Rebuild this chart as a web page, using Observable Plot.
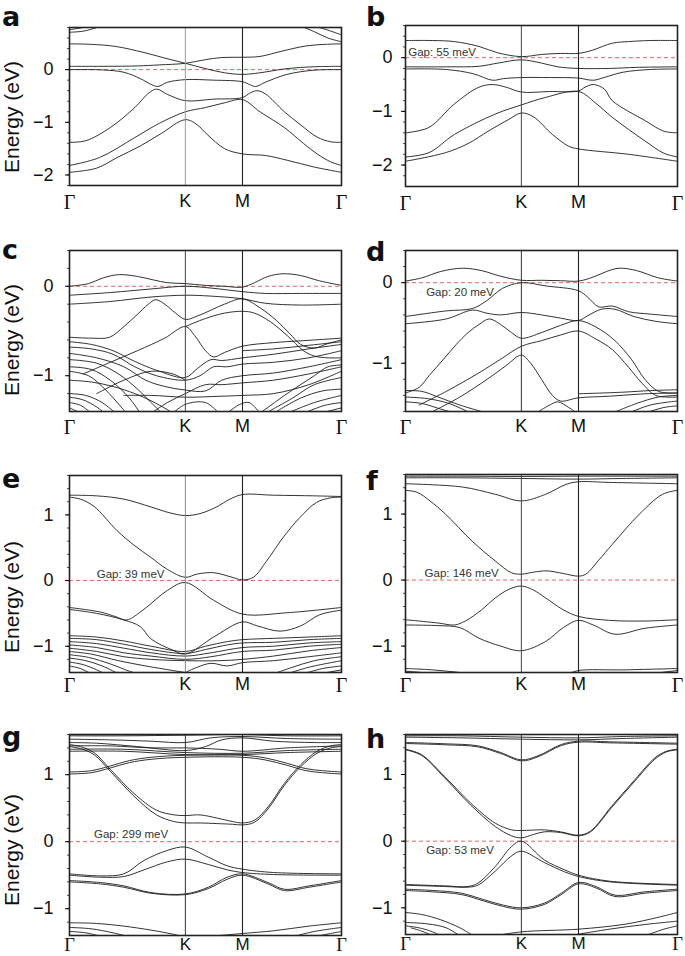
<!DOCTYPE html>
<html><head><meta charset="utf-8">
<script src="https://cdn.jsdelivr.net/npm/d3@7"></script>
<script src="https://cdn.jsdelivr.net/npm/@observablehq/plot@0.6"></script>
<style>
body{margin:0;background:#fff}
#chart{position:relative;width:685px;height:956px;overflow:hidden;background:#fff}
</style></head><body><div id="chart"></div><script>
// ---- k-path ticks ----
const kTicks = [0, 0.426, 0.636, 1];
const kLabels = ["Γ", "K", "M", "Γ"];
const yTicksA = [-2, -1, 0];
const yTicksB = [-2, -1, 0];
const yTicksC = [-1, 0];
const yTicksD = [-1, 0];
const yTicksEH = [-1, 0, 1];
const gapLabels = {b: "Gap: 55 meV", d: "Gap: 20 meV", e: "Gap: 39 meV", f: "Gap: 146 meV", g: "Gap: 299 meV", h: "Gap: 53 meV"};
const gapPos = {b: [0.01, 0.1], d: [0.076, -0.12], e: [0.1, 0.1], f: [0.07, 0.1], g: [0.09, 0.11], h: [0.076, -0.13]};

// ---- bands: each band is a list of [k, E(eV)] ----
const bandsA = [
 [[0,0.063],[0.12,0.063],[0.25,0.07],[0.33,0.09],[0.426,0.12],[0.5,0.19],[0.56,0.23],[0.636,0.235],[0.7,0.25],[0.78,0.35],[0.87,0.45],[0.94,0.48],[1,0.49]],
 [[0,0.49],[0.08,0.48],[0.17,0.44],[0.27,0.33],[0.35,0.22],[0.426,0.12],[0.5,0.02],[0.57,-0.06],[0.636,-0.09],[0.7,-0.06],[0.8,0.02],[0.9,0.055],[1,0.063]],
 [[0,0.0],[0.12,-0.005],[0.2,-0.05],[0.26,-0.17],[0.3,-0.28],[0.325,-0.32],[0.36,-0.24],[0.426,-0.19],[0.53,-0.2],[0.636,-0.23],[0.665,-0.29],[0.685,-0.32],[0.72,-0.24],[0.8,-0.09],[0.9,-0.01],[1,0.0]],
 [[0,-1.38],[0.06,-1.35],[0.15,-1.1],[0.24,-0.72],[0.29,-0.45],[0.32,-0.37],[0.36,-0.47],[0.426,-0.59],[0.53,-0.56],[0.636,-0.53],[0.665,-0.44],[0.69,-0.4],[0.72,-0.46],[0.79,-0.8],[0.85,-1.05],[0.91,-1.28],[0.96,-1.37],[1,-1.38]],
 [[0,-1.82],[0.11,-1.67],[0.24,-1.29],[0.33,-1.02],[0.426,-0.8],[0.5,-0.72],[0.57,-0.63],[0.636,-0.57],[0.7,-0.8],[0.79,-1.1],[0.86,-1.4],[0.91,-1.6],[0.96,-1.75],[1,-1.82]],
 [[0,-1.95],[0.1,-1.87],[0.175,-1.67],[0.26,-1.45],[0.335,-1.22],[0.426,-0.95],[0.47,-1.05],[0.506,-1.23],[0.57,-1.5],[0.636,-1.6],[0.72,-1.63],[0.8,-1.72],[0.9,-1.85],[1,-1.95]],
 [[0,0.71],[0.05,0.73],[0.1,0.8],[0.12,0.85]],
 [[0,0.76],[0.04,0.79],[0.07,0.83]],
 [[0.85,0.83],[0.9,0.72],[0.95,0.6],[1,0.53]],
 [[0.9,0.83],[0.95,0.75],[1,0.66]]
];
const bandsB = [
 [[0,0.32],[0.1,0.32],[0.18,0.3],[0.27,0.21],[0.34,0.09],[0.426,0.02],[0.5,0.06],[0.57,0.08],[0.636,0.08],[0.687,0.14],[0.76,0.27],[0.82,0.3],[0.9,0.32],[1,0.32]],
 [[0,-0.17],[0.15,-0.17],[0.27,-0.16],[0.34,-0.1],[0.426,-0.04],[0.5,-0.1],[0.56,-0.17],[0.636,-0.2],[0.75,-0.2],[0.85,-0.18],[1,-0.17]],
 [[0,-0.21],[0.15,-0.22],[0.25,-0.3],[0.32,-0.42],[0.36,-0.39],[0.426,-0.37],[0.53,-0.37],[0.636,-0.38],[0.69,-0.42],[0.73,-0.37],[0.8,-0.27],[0.9,-0.22],[1,-0.21]],
 [[0,-1.4],[0.086,-1.3],[0.18,-0.86],[0.27,-0.55],[0.32,-0.5],[0.37,-0.55],[0.426,-0.64],[0.53,-0.63],[0.636,-0.62],[0.66,-0.55],[0.69,-0.5],[0.73,-0.58],[0.76,-0.8],[0.88,-1.17],[0.95,-1.37],[1,-1.4]],
 [[0,-1.85],[0.086,-1.77],[0.18,-1.43],[0.33,-1.05],[0.426,-0.88],[0.515,-0.74],[0.636,-0.63],[0.7,-0.85],[0.76,-1.11],[0.88,-1.55],[0.95,-1.78],[1,-1.85]],
 [[0,-1.93],[0.147,-1.77],[0.23,-1.6],[0.307,-1.36],[0.38,-1.15],[0.426,-1.03],[0.47,-1.1],[0.54,-1.43],[0.6,-1.65],[0.636,-1.7],[0.82,-1.8],[1,-1.93]]
];
const bandsC = [
 [[0,0.0],[0.07,0.03],[0.12,0.09],[0.18,0.13],[0.25,0.11],[0.31,0.07],[0.36,0.04],[0.426,0.03],[0.5,0.01],[0.57,0.0],[0.636,-0.01],[0.68,0.04],[0.73,0.11],[0.785,0.14],[0.85,0.12],[0.92,0.06],[1,0.01]],
 [[0,-0.1],[0.15,-0.07],[0.3,-0.03],[0.426,0.0],[0.52,-0.02],[0.636,-0.06],[0.72,-0.08],[0.85,-0.08],[1,-0.08]],
 [[0,-0.2],[0.15,-0.17],[0.3,-0.12],[0.426,-0.1],[0.52,-0.11],[0.636,-0.14],[0.72,-0.19],[0.85,-0.21],[1,-0.2]],
 [[0,-0.57],[0.08,-0.58],[0.147,-0.57],[0.2,-0.45],[0.244,-0.33],[0.29,-0.2],[0.317,-0.15],[0.35,-0.2],[0.39,-0.3],[0.426,-0.37],[0.48,-0.32],[0.57,-0.2],[0.636,-0.14],[0.7,-0.24],[0.76,-0.38],[0.81,-0.53],[0.85,-0.65],[0.9,-0.69],[0.95,-0.64],[1,-0.6]],
 [[0.05,-0.98],[0.15,-0.85],[0.25,-0.72],[0.35,-0.58],[0.426,-0.45],[0.46,-0.55],[0.5,-0.72],[0.53,-0.79],[0.57,-0.74],[0.636,-0.67],[0.75,-0.63],[0.85,-0.61],[1,-0.58]],
 [[0.426,-0.45],[0.5,-0.36],[0.57,-0.3],[0.636,-0.28],[0.68,-0.3],[0.74,-0.4],[0.8,-0.55],[0.86,-0.72],[0.9,-0.78],[0.95,-0.8],[1,-0.8]],
 [[0,-0.62],[0.08,-0.65],[0.16,-0.72],[0.24,-0.84],[0.33,-0.95],[0.426,-1.02],[0.47,-0.92],[0.52,-0.82],[0.56,-0.83],[0.636,-0.8],[0.75,-0.76],[0.88,-0.7],[1,-0.65]],
 [[0,-0.68],[0.08,-0.7],[0.16,-0.76],[0.24,-0.9],[0.32,-1.0],[0.426,-1.05],[0.48,-1.0],[0.53,-0.9],[0.58,-0.9],[0.636,-0.87],[0.75,-0.85],[0.88,-0.8],[1,-0.72]],
 [[0,-0.75],[0.1,-0.8],[0.2,-0.9],[0.28,-1.05],[0.35,-1.12],[0.426,-1.16],[0.5,-1.17],[0.56,-1.05],[0.636,-1.0],[0.75,-0.97],[0.88,-0.9],[1,-0.82]],
 [[0,-0.82],[0.1,-0.86],[0.18,-0.98],[0.25,-1.15],[0.3,-1.3],[0.34,-1.42]],
 [[0,-0.9],[0.08,-0.93],[0.15,-1.05],[0.22,-1.25],[0.26,-1.42]],
 [[0,-0.95],[0.07,-1.0],[0.13,-1.15],[0.19,-1.35],[0.21,-1.42]],
 [[0,-1.05],[0.08,-1.07],[0.16,-1.12],[0.24,-1.2],[0.3,-1.28],[0.36,-1.38],[0.38,-1.42]],
 [[0,-1.2],[0.06,-1.22],[0.12,-1.3],[0.17,-1.42]],
 [[0,-1.24],[0.05,-1.27],[0.1,-1.35],[0.13,-1.42]],
 [[0,-1.3],[0.04,-1.33],[0.08,-1.42]],
 [[0,-1.36],[0.03,-1.4],[0.05,-1.42]],
 [[0.1,-1.2],[0.2,-1.05],[0.3,-0.95],[0.38,-0.98],[0.426,-1.05]],
 [[0.2,-1.22],[0.3,-1.22],[0.426,-1.24],[0.55,-1.23],[0.636,-1.22],[0.75,-1.2],[0.88,-1.1],[1,-0.95]],
 [[0.3,-1.42],[0.36,-1.3],[0.426,-1.2],[0.5,-1.1],[0.56,-1.1],[0.636,-1.08],[0.75,-1.05],[0.88,-0.98],[1,-0.9]],
 [[0.636,-0.72],[0.75,-0.7],[0.88,-0.66],[1,-0.62]],
 [[0.38,-1.42],[0.426,-1.32],[0.5,-1.3],[0.55,-1.42]],
 [[0.58,-1.42],[0.62,-1.33],[0.66,-1.3],[0.7,-1.42]],
 [[0.7,-1.42],[0.8,-1.2],[0.9,-1.0],[0.95,-0.9],[1,-0.88]],
 [[0.72,-1.42],[0.82,-1.25],[0.9,-1.1],[1,-1.02]],
 [[0.75,-1.42],[0.85,-1.25],[0.93,-1.17],[1,-1.15]],
 [[0.8,-1.42],[0.9,-1.3],[1,-1.22]],
 [[0.86,-1.42],[0.94,-1.33],[1,-1.3]],
 [[0.92,-1.42],[1,-1.36]]
];
const bandsD = [
 [[0,0.02],[0.06,0.06],[0.13,0.14],[0.21,0.18],[0.28,0.15],[0.35,0.08],[0.426,0.03],[0.5,0.03],[0.57,0.025],[0.636,0.02],[0.69,0.07],[0.74,0.14],[0.786,0.18],[0.85,0.15],[0.93,0.06],[1,0.02]],
 [[0,-0.42],[0.15,-0.35],[0.247,-0.32],[0.3,-0.22],[0.357,-0.07],[0.426,0.0],[0.516,-0.04],[0.636,-0.1],[0.67,-0.18],[0.71,-0.3],[0.76,-0.29],[0.82,-0.36],[0.9,-0.39],[1,-0.42]],
 [[0,-0.51],[0.15,-0.45],[0.247,-0.34],[0.3,-0.38],[0.35,-0.4],[0.426,-0.37],[0.5,-0.4],[0.57,-0.44],[0.636,-0.47],[0.67,-0.41],[0.72,-0.33],[0.77,-0.33],[0.84,-0.42],[0.92,-0.48],[1,-0.51]],
 [[0,-1.37],[0.05,-1.3],[0.088,-1.15],[0.14,-0.95],[0.186,-0.77],[0.23,-0.62],[0.27,-0.52],[0.308,-0.45],[0.35,-0.52],[0.39,-0.62],[0.426,-0.69],[0.5,-0.62],[0.57,-0.53],[0.636,-0.47],[0.7,-0.55],[0.77,-0.72],[0.83,-0.95],[0.88,-1.2],[0.93,-1.35],[1,-1.37]],
 [[0.05,-1.52],[0.15,-1.35],[0.27,-1.12],[0.35,-0.95],[0.426,-0.79],[0.5,-0.72],[0.57,-0.65],[0.636,-0.6],[0.7,-0.7],[0.76,-0.83],[0.82,-1.05],[0.87,-1.25],[0.92,-1.4],[1,-1.42]],
 [[0.1,-1.6],[0.2,-1.42],[0.3,-1.2],[0.37,-1.03],[0.426,-0.9],[0.46,-1.0],[0.5,-1.2],[0.54,-1.4],[0.57,-1.47],[0.636,-1.43],[0.75,-1.41],[0.88,-1.38],[1,-1.37]],
 [[0.636,-1.38],[0.8,-1.36],[0.9,-1.34],[1,-1.33]],
 [[0,-1.34],[0.06,-1.35],[0.12,-1.42],[0.2,-1.52],[0.3,-1.62]],
 [[0,-1.42],[0.08,-1.44],[0.16,-1.5],[0.24,-1.62]],
 [[0,-1.48],[0.06,-1.5],[0.12,-1.56],[0.18,-1.62]],
 [[0.76,-1.62],[0.85,-1.5],[0.93,-1.42],[1,-1.4]],
 [[0.82,-1.62],[0.9,-1.52],[1,-1.47]],
 [[0.88,-1.62],[0.95,-1.55],[1,-1.53]],
 [[0.48,-1.62],[0.53,-1.52],[0.56,-1.48],[0.6,-1.55],[0.63,-1.62]]
];
const bandsE = [
 [[0,1.3],[0.1,1.29],[0.2,1.24],[0.3,1.12],[0.37,1.03],[0.426,0.99],[0.48,1.02],[0.54,1.12],[0.59,1.24],[0.636,1.31],[0.75,1.3],[0.9,1.29],[1,1.28]],
 [[0,1.27],[0.04,1.24],[0.09,1.13],[0.175,0.76],[0.24,0.53],[0.297,0.36],[0.36,0.17],[0.426,0.05],[0.47,0.1],[0.53,0.12],[0.59,0.06],[0.636,0.01],[0.676,0.05],[0.725,0.3],[0.786,0.66],[0.847,0.96],[0.908,1.19],[0.96,1.26],[1,1.27]],
 [[0,-0.41],[0.114,-0.48],[0.17,-0.55],[0.21,-0.6],[0.27,-0.45],[0.36,-0.15],[0.426,-0.03],[0.53,-0.3],[0.636,-0.51],[0.8,-0.49],[1,-0.41]],
 [[0,-0.44],[0.1,-0.5],[0.2,-0.6],[0.26,-0.7],[0.3,-0.89],[0.38,-1.06],[0.426,-1.12],[0.53,-0.86],[0.636,-0.63],[0.69,-0.69],[0.774,-0.77],[0.85,-0.69],[0.92,-0.52],[1,-0.45]],
 [[0,-0.84],[0.1,-0.86],[0.2,-0.92],[0.3,-1.0],[0.426,-1.08],[0.5,-1.0],[0.58,-0.93],[0.636,-0.9],[0.75,-0.88],[0.88,-0.86],[1,-0.84]],
 [[0,-0.88],[0.1,-0.9],[0.2,-0.97],[0.3,-1.05],[0.426,-1.11],[0.5,-1.05],[0.58,-0.98],[0.636,-0.95],[0.75,-0.94],[0.88,-0.9],[1,-0.88]],
 [[0,-0.93],[0.1,-0.96],[0.2,-1.03],[0.3,-1.1],[0.426,-1.15],[0.52,-1.1],[0.636,-1.02],[0.75,-1.0],[0.88,-0.95],[1,-0.93]],
 [[0,-0.98],[0.1,-1.02],[0.2,-1.1],[0.3,-1.15],[0.426,-1.2],[0.52,-1.16],[0.636,-1.08],[0.75,-1.06],[0.88,-1.0],[1,-0.97]],
 [[0,-1.03],[0.1,-1.08],[0.2,-1.16],[0.3,-1.2],[0.426,-1.22],[0.55,-1.22],[0.636,-1.2],[0.75,-1.15],[0.88,-1.07],[1,-1.02]],
 [[0,-1.08],[0.08,-1.12],[0.18,-1.22],[0.28,-1.3],[0.38,-1.37],[0.426,-1.4]],
 [[0,-1.13],[0.07,-1.17],[0.15,-1.27],[0.22,-1.38],[0.25,-1.42]],
 [[0,-1.18],[0.06,-1.22],[0.12,-1.3],[0.18,-1.42]],
 [[0,-1.24],[0.05,-1.28],[0.1,-1.36],[0.13,-1.42]],
 [[0,-1.3],[0.04,-1.34],[0.08,-1.42]],
 [[0.426,-1.4],[0.47,-1.32],[0.52,-1.26],[0.58,-1.3],[0.636,-1.25],[0.75,-1.22],[0.88,-1.16],[1,-1.1]],
 [[0.75,-1.42],[0.82,-1.32],[0.9,-1.22],[1,-1.16]],
 [[0.8,-1.42],[0.88,-1.32],[1,-1.22]],
 [[0.86,-1.42],[0.93,-1.34],[1,-1.3]],
 [[0.92,-1.42],[1,-1.36]]
];
const bandsF = [
 [[0,1.575],[0.2,1.575],[0.426,1.57],[0.636,1.575],[0.8,1.575],[1,1.575]],
 [[0,1.55],[0.2,1.55],[0.426,1.54],[0.636,1.53],[0.8,1.54],[1,1.55]],
 [[0,1.46],[0.21,1.41],[0.33,1.3],[0.426,1.2],[0.515,1.3],[0.59,1.45],[0.636,1.49],[0.75,1.48],[1,1.46]],
 [[0,1.36],[0.043,1.33],[0.09,1.2],[0.147,1.0],[0.245,0.59],[0.33,0.29],[0.39,0.11],[0.426,0.09],[0.47,0.12],[0.52,0.14],[0.58,0.1],[0.636,0.06],[0.663,0.09],[0.71,0.3],[0.76,0.54],[0.86,1.0],[0.945,1.3],[1,1.36]],
 [[0,-0.6],[0.12,-0.65],[0.18,-0.68],[0.22,-0.62],[0.28,-0.45],[0.33,-0.27],[0.38,-0.14],[0.426,-0.09],[0.47,-0.15],[0.515,-0.27],[0.58,-0.45],[0.636,-0.55],[0.75,-0.61],[0.88,-0.62],[1,-0.6]],
 [[0,-0.68],[0.12,-0.69],[0.2,-0.72],[0.27,-0.88],[0.35,-1.0],[0.426,-1.07],[0.515,-0.93],[0.58,-0.72],[0.636,-0.61],[0.69,-0.68],[0.77,-0.82],[0.88,-0.73],[1,-0.68]],
 [[0,-1.34],[0.1,-1.36],[0.2,-1.4],[0.3,-1.43]],
 [[0,-1.38],[0.06,-1.4],[0.12,-1.43]],
 [[0.6,-1.42],[0.636,-1.37],[0.8,-1.36],[1,-1.34]],
 [[0.9,-1.42],[1,-1.37]],
 [[0.38,-1.43],[0.426,-1.4],[0.47,-1.43]]
];
const bandsG = [
 [[0,1.58],[0.2,1.58],[0.426,1.59],[0.636,1.6],[0.8,1.58],[1,1.58]],
 [[0,1.53],[0.15,1.52],[0.3,1.5],[0.426,1.48],[0.52,1.55],[0.636,1.57],[0.8,1.54],[1,1.53]],
 [[0,1.48],[0.1,1.47],[0.25,1.42],[0.426,1.36],[0.5,1.42],[0.56,1.52],[0.636,1.55],[0.75,1.5],[0.9,1.48],[1,1.48]],
 [[0,1.43],[0.15,1.43],[0.3,1.4],[0.426,1.4],[0.55,1.38],[0.636,1.35],[0.8,1.4],[1,1.43]],
 [[0,1.38],[0.2,1.38],[0.426,1.33],[0.636,1.32],[0.8,1.36],[1,1.38]],
 [[0,1.35],[0.2,1.35],[0.426,1.3],[0.636,1.3],[0.8,1.33],[1,1.35]],
 [[0,1.01],[0.08,1.03],[0.15,1.1],[0.22,1.18],[0.3,1.23],[0.426,1.26],[0.636,1.26],[0.72,1.22],[0.8,1.14],[0.87,1.06],[0.93,1.03],[1,1.01]],
 [[0,1.04],[0.08,1.06],[0.15,1.13],[0.22,1.21],[0.3,1.26],[0.426,1.29],[0.636,1.29],[0.72,1.25],[0.8,1.17],[0.87,1.09],[0.93,1.06],[1,1.04]],
 [[0,1.45],[0.04,1.42],[0.09,1.33],[0.15,1.08],[0.237,0.72],[0.32,0.47],[0.385,0.4],[0.426,0.39],[0.48,0.4],[0.545,0.35],[0.6,0.3],[0.636,0.28],[0.68,0.32],[0.73,0.52],[0.79,0.87],[0.85,1.15],[0.91,1.35],[0.96,1.43],[1,1.45]],
 [[0,1.42],[0.04,1.39],[0.09,1.3],[0.15,1.05],[0.237,0.68],[0.32,0.4],[0.385,0.3],[0.426,0.28],[0.48,0.28],[0.545,0.27],[0.6,0.26],[0.636,0.25],[0.68,0.29],[0.73,0.49],[0.79,0.84],[0.85,1.12],[0.91,1.32],[0.96,1.4],[1,1.42]],
 [[0,-0.48],[0.114,-0.51],[0.2,-0.48],[0.274,-0.28],[0.36,-0.13],[0.426,-0.08],[0.51,-0.23],[0.58,-0.36],[0.636,-0.41],[0.75,-0.46],[1,-0.48]],
 [[0,-0.5],[0.114,-0.53],[0.2,-0.52],[0.274,-0.42],[0.36,-0.3],[0.426,-0.26],[0.51,-0.34],[0.58,-0.42],[0.636,-0.46],[0.75,-0.49],[1,-0.5]],
 [[0,-0.58],[0.114,-0.61],[0.2,-0.66],[0.3,-0.76],[0.426,-0.78],[0.51,-0.68],[0.58,-0.53],[0.636,-0.48],[0.73,-0.61],[0.79,-0.71],[0.88,-0.66],[1,-0.58]],
 [[0,-0.6],[0.114,-0.63],[0.2,-0.68],[0.3,-0.77],[0.426,-0.79],[0.51,-0.7],[0.58,-0.56],[0.636,-0.5],[0.73,-0.63],[0.79,-0.73],[0.88,-0.68],[1,-0.6]],
 [[0,-1.21],[0.1,-1.22],[0.2,-1.26],[0.3,-1.32],[0.38,-1.38],[0.42,-1.42]],
 [[0,-1.28],[0.08,-1.3],[0.16,-1.36],[0.22,-1.42]],
 [[0,-1.34],[0.06,-1.36],[0.12,-1.42]],
 [[0.5,-1.42],[0.58,-1.39],[0.636,-1.37],[0.75,-1.33],[0.88,-1.26],[1,-1.21]],
 [[0.82,-1.42],[0.9,-1.34],[1,-1.28]],
 [[0.9,-1.42],[0.96,-1.37],[1,-1.34]]
];
const bandsH = [
 [[0,1.58],[0.2,1.58],[0.426,1.56],[0.636,1.55],[0.8,1.57],[1,1.58]],
 [[0,1.56],[0.2,1.55],[0.426,1.53],[0.636,1.52],[0.8,1.54],[1,1.56]],
 [[0,1.48],[0.15,1.46],[0.266,1.43],[0.35,1.33],[0.426,1.22],[0.487,1.28],[0.573,1.45],[0.636,1.5],[0.75,1.49],[1,1.47]],
 [[0,1.465],[0.15,1.445],[0.266,1.415],[0.35,1.315],[0.426,1.205],[0.487,1.265],[0.573,1.435],[0.636,1.485],[0.75,1.475],[1,1.455]],
 [[0,1.38],[0.058,1.3],[0.144,0.97],[0.24,0.57],[0.33,0.27],[0.39,0.17],[0.426,0.16],[0.51,0.17],[0.57,0.14],[0.636,0.09],[0.68,0.15],[0.757,0.52],[0.843,0.92],[0.917,1.25],[0.96,1.35],[1,1.38]],
 [[0,1.37],[0.058,1.29],[0.144,0.95],[0.24,0.54],[0.33,0.22],[0.39,0.08],[0.426,0.05],[0.47,0.1],[0.51,0.14],[0.57,0.13],[0.636,0.08],[0.68,0.14],[0.757,0.5],[0.843,0.9],[0.917,1.23],[0.96,1.34],[1,1.37]],
 [[0,-0.65],[0.144,-0.67],[0.23,-0.68],[0.266,-0.63],[0.33,-0.38],[0.39,-0.08],[0.426,0.0],[0.51,-0.28],[0.585,-0.43],[0.636,-0.51],[0.75,-0.6],[1,-0.65]],
 [[0,-0.66],[0.144,-0.68],[0.23,-0.69],[0.266,-0.66],[0.33,-0.45],[0.39,-0.22],[0.426,-0.15],[0.51,-0.32],[0.585,-0.46],[0.636,-0.53],[0.75,-0.61],[1,-0.66]],
 [[0,-0.72],[0.1,-0.74],[0.205,-0.78],[0.29,-0.88],[0.36,-0.96],[0.426,-1.0],[0.51,-0.93],[0.573,-0.78],[0.636,-0.62],[0.7,-0.68],[0.77,-0.81],[0.88,-0.76],[1,-0.72]],
 [[0,-0.74],[0.1,-0.76],[0.205,-0.8],[0.29,-0.9],[0.36,-0.98],[0.426,-1.02],[0.51,-0.95],[0.573,-0.8],[0.636,-0.64],[0.7,-0.7],[0.77,-0.83],[0.88,-0.78],[1,-0.74]],
 [[0,-1.07],[0.06,-1.1],[0.13,-1.18],[0.2,-1.3],[0.25,-1.42]],
 [[0,-1.22],[0.08,-1.24],[0.15,-1.3],[0.2,-1.42]],
 [[0,-1.27],[0.05,-1.3],[0.1,-1.36],[0.13,-1.42]],
 [[0.02,-1.3],[0.06,-1.35],[0.1,-1.42]],
 [[0.33,-1.42],[0.426,-1.36],[0.636,-1.32],[0.8,-1.25],[0.9,-1.17],[1,-1.07]],
 [[0.6,-1.42],[0.75,-1.32],[0.88,-1.25],[1,-1.2]],
 [[0.88,-1.42],[0.95,-1.32],[1,-1.27]]
];

// ---- panel setup (data + layout) ----
const panels = [
 {id:"a", bands:bandsA, yDomain:[-2.2,0.8], yTicks:yTicksA, col:0, top:0,   h:215, mt:27, mb:30, kPad:9, kCol:"#9a9a9a"},
 {id:"b", bands:bandsB, yDomain:[-2.4,0.6], yTicks:yTicksB, col:1, top:0,   h:215, mt:25, mb:29, kPad:9, kCol:"#444"},
 {id:"c", bands:bandsC, yDomain:[-1.4,0.4], yTicks:yTicksC, col:0, top:230, h:215, mt:20, mb:34, kPad:8, kCol:"#444"},
 {id:"d", bands:bandsD, yDomain:[-1.6,0.4], yTicks:yTicksD, col:1, top:230, h:215, mt:20, mb:34, kPad:8, kCol:"#333"},
 {id:"e", bands:bandsE, yDomain:[-1.4,1.6], yTicks:yTicksEH, col:0, top:460, h:235, mt:15, mb:23, kPad:5, kCol:"#8a8a8a"},
 {id:"f", bands:bandsF, yDomain:[-1.4,1.6], yTicks:yTicksEH, col:1, top:460, h:235, mt:14, mb:23, kPad:5, kCol:"#444"},
 {id:"g", bands:bandsG, yDomain:[-1.4,1.6], yTicks:yTicksEH, col:0, top:700, h:256, mt:34, mb:21, kPad:2, kCol:"#333"},
 {id:"h", bands:bandsH, yDomain:[-1.4,1.6], yTicks:yTicksEH, col:1, top:700, h:256, mt:34, mb:22, kPad:2, kCol:"#333"}
];
const cols = [{left:0, w:345, ml:69, mr:4, pad:12}, {left:345, w:340, ml:60, mr:8, pad:9}];
const fmt = d => d < 0 ? "\u2212" + Math.abs(d) : String(d);
const root = document.getElementById("chart");

for (const p of panels) {
  const c = cols[p.col];
  const data = p.bands.flatMap((b, i) => b.map(([k, e]) => ({band: i, k, e})));
  const minor = d3.range(Math.ceil(p.yDomain[0] / 0.2) * 0.2, p.yDomain[1] + 1e-6, 0.2).map(v => +v.toFixed(2));
  const gFont = p.top >= 700 ? 18.5 : 20;
  const kFont = p.top >= 700 ? 17 : 18;
  const marks = [
    Plot.ruleY([0], {stroke: "#d0453f", strokeOpacity: 0.8, strokeWidth: 1, strokeDasharray: "4,3"}),
    Plot.line(data, {x: "k", y: "e", z: "band", curve: "catmull-rom", stroke: "#1c1c1c", strokeWidth: 0.9, clip: true}),
    Plot.ruleX([kTicks[1]], {stroke: p.kCol, strokeWidth: 1}),
    Plot.ruleX([kTicks[2]], {stroke: "#222", strokeWidth: 1.1}),
    Plot.frame({stroke: "#222", strokeWidth: 1.6}),
    Plot.axisY(minor, {tickSize: 2, tickFormat: () => "", label: null, stroke: "#444"}),
    Plot.axisY(p.yTicks, {tickSize: 4, tickPadding: c.pad, tickFormat: fmt, fontSize: 18, label: null, fill: "#111"}),
    Plot.axisX([kTicks[0], kTicks[3]], {tickSize: 0, tickPadding: p.kPad, tickFormat: () => kLabels[0], fontSize: gFont, fontFamily: "Liberation Serif, serif", label: null, fill: "#111"}),
    Plot.axisX([kTicks[1], kTicks[2]], {tickSize: 0, tickPadding: p.kPad, tickFormat: d => kLabels[kTicks.indexOf(d)], fontSize: kFont, label: null, fill: "#111"})
  ];
  if (gapLabels[p.id]) {
    const [gk, ge] = gapPos[p.id];
    marks.push(Plot.text([gapLabels[p.id]], {x: () => gk, y: () => ge, text: d => d, textAnchor: "start", fontSize: 11.5, fill: "#333"}));
  }
  const svg = Plot.plot({
    width: c.w, height: p.h,
    marginLeft: c.ml, marginRight: c.mr, marginTop: p.mt, marginBottom: p.mb,
    x: {domain: [0, 1], axis: null},
    y: {domain: p.yDomain, axis: null, label: null},
    style: {fontFamily: "Liberation Sans, Arial, sans-serif", background: "transparent", overflow: "visible"},
    marks
  });
  svg.style.position = "absolute";
  svg.style.left = c.left + "px";
  svg.style.top = p.top + "px";
  root.appendChild(svg);
}

// ---- panel letters and y-axis titles ----
const letters = [["a",2,26],["b",366,26],["c",2,259],["d",366,261],["e",2,488],["f",366,490],["g",2,746],["h",366,748]];
const yTitleRows = [117, 340, 597, 850];
const over = d3.create("svg").attr("width", 685).attr("height", 956)
  .style("position", "absolute").style("left", "0px").style("top", "0px").style("pointer-events", "none");
over.selectAll("text.l").data(letters).join("text").attr("class", "l")
  .attr("x", d => d[1]).attr("y", d => d[2]).text(d => d[0])
  .attr("font-family", "DejaVu Sans, Arial, sans-serif").attr("font-weight", "bold").attr("font-size", 27).attr("fill", "#111");
over.selectAll("text.t").data(yTitleRows).join("text").attr("class", "t")
  .attr("transform", d => `translate(19,${d}) rotate(-90)`).attr("text-anchor", "middle")
  .text("Energy (eV)").attr("font-family", "Liberation Sans, Arial, sans-serif").attr("font-size", 21).attr("fill", "#111");
root.appendChild(over.node());
</script></body></html>
